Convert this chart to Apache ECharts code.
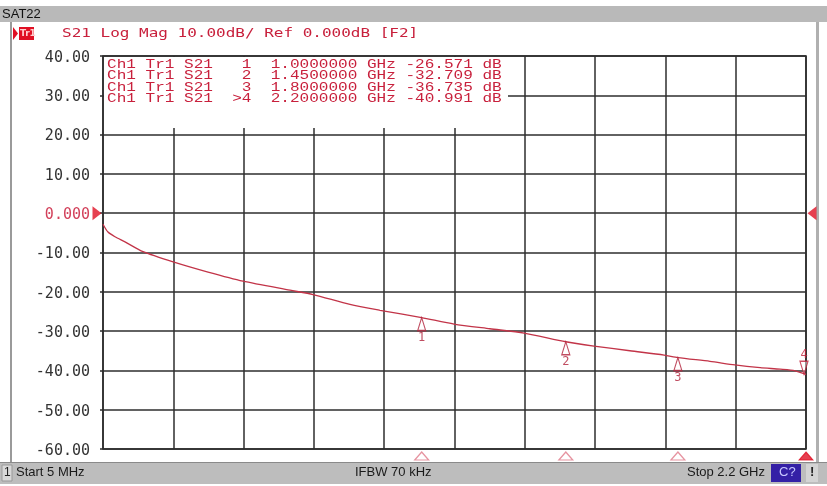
<!DOCTYPE html>
<html>
<head>
<meta charset="utf-8">
<script src="https://cdn.jsdelivr.net/npm/echarts@6/dist/echarts.min.js"></script>
<style>
  html, body { margin: 0; padding: 0; background: #ffffff; }
  #chart { width: 827px; height: 486px; }
</style>
</head>
<body>
<div id="chart"></div>
<script>
// S21 transmission sweep, 5 MHz .. 2.2 GHz
const freqGHz = [0.005, 0.0206, 0.0425, 0.0737, 0.130, 0.224, 0.333, 0.442, 0.589, 0.661,
                 0.776, 0.870, 1.000, 1.101, 1.213, 1.320, 1.450, 1.538, 1.650, 1.757,
                 1.800, 1.900, 1.978, 2.057, 2.119, 2.166, 2.200];
const s21dB   = [-2.8, -4.8, -6.0, -7.3, -9.8, -12.4, -15.0, -17.3, -19.6, -20.7,
                 -23.2, -24.7, -26.571, -28.2, -29.4, -30.5, -32.709, -33.8, -35.0, -36.1,
                 -36.735, -37.7, -38.6, -39.3, -39.7, -40.1, -40.991];

// markers
const markerIds  = ['1', '2', '3', '4'];
const markerTags = ['1', '2', '3', '>4'];
const markerGHz  = [1.0, 1.45, 1.8, 2.2];
const markerdB   = [-26.571, -32.709, -36.735, -40.991];

// y axis
const yMin = -60, yMax = 40, yStep = 10;
const yTickLabels = ['-60.00', '-50.00', '-40.00', '-30.00', '-20.00', '-10.00',
                     '0.000', '10.00', '20.00', '30.00', '40.00'];

// sweep
const startGHz = 0.005, stopGHz = 2.2;

const RED = '#c8203c';
const TRACE = '#c23448';
const GRID = '#2e2e2e';
const MONO = 'DejaVu Sans Mono';
const THIN_MONO = 'Liberation Mono';

const chart = echarts.init(document.getElementById('chart'), null, { renderer: 'canvas' });

const tableRows = markerIds.map((id, i) => {
  const tag = markerTags[i].padStart(2, ' ');
  return 'Ch1 Tr1 S21  ' + tag + '  ' + markerGHz[i].toFixed(7) + ' GHz ' +
         markerdB[i].toFixed(3) + ' dB';
});

const graphics = [
  // window frame
  { type: 'rect', shape: { x: 0, y: 6, width: 827, height: 16 }, style: { fill: '#b9b9b9' }, z: 1 },
  { type: 'text', x: 2, y: 14, style: { text: 'SAT22', font: '13px "Liberation Sans"', fill: '#111', verticalAlign: 'middle' }, z: 2 },
  { type: 'rect', shape: { x: 10, y: 22, width: 2, height: 440 }, style: { fill: '#9a9a9a' }, z: 1 },
  { type: 'rect', shape: { x: 816, y: 22, width: 3, height: 440 }, style: { fill: '#b0b0b0' }, z: 1 },
  // trace header
  { type: 'polygon', shape: { points: [[13, 27], [18, 33.5], [13, 40]] }, style: { fill: '#e01024' }, z: 2 },
  { type: 'rect', shape: { x: 19, y: 27, width: 15, height: 13 }, style: { fill: '#e01024' }, z: 2 },
  { type: 'text', x: 20, y: 29, style: { text: 'Tr1', font: 'bold 9px "DejaVu Sans"', fill: '#ffd0d0' }, z: 3 },
  { type: 'text', x: 62, y: 27, scaleX: 1.23,
    style: { text: 'S21 Log Mag 10.00dB/ Ref 0.000dB [F2]', font: '13px "' + MONO + '"', fill: RED }, z: 3 },
  // marker table
  { type: 'rect', shape: { x: 104, y: 57, width: 404, height: 71 }, style: { fill: '#ffffff' }, z: 5 },
  // status bar
  { type: 'rect', shape: { x: 0, y: 462, width: 827, height: 22 }, style: { fill: '#bdbdbd' }, z: 1 },
  { type: 'rect', shape: { x: 0, y: 462, width: 827, height: 1 }, style: { fill: '#8a8a8a' }, z: 2 },
  { type: 'rect', shape: { x: 2, y: 465, width: 10, height: 16 }, style: { fill: '#d8d8d8', stroke: '#999', lineWidth: 1 }, z: 2 },
  { type: 'text', x: 4, y: 467, style: { text: '1', font: '12px "Liberation Sans"', fill: '#222' }, z: 3 },
  { type: 'text', x: 16, y: 466, style: { text: 'Start 5 MHz', font: '13px "Liberation Sans"', fill: '#1a1a1a' }, z: 3 },
  { type: 'text', x: 355, y: 466, style: { text: 'IFBW 70 kHz', font: '13px "Liberation Sans"', fill: '#1a1a1a' }, z: 3 },
  { type: 'text', x: 765, y: 466, style: { text: 'Stop 2.2 GHz', font: '13px "Liberation Sans"', fill: '#1a1a1a', align: 'right' }, z: 3 },
  { type: 'rect', shape: { x: 771, y: 464, width: 30, height: 18 }, style: { fill: '#3420a6' }, z: 2 },
  { type: 'text', x: 779, y: 466, style: { text: 'C?', font: '13px "Liberation Sans"', fill: '#c8c8ff' }, z: 3 },
  { type: 'rect', shape: { x: 806, y: 464, width: 12, height: 18 }, style: { fill: '#d4d4d4' }, z: 2 },
  { type: 'text', x: 810, y: 466, style: { text: '!', font: 'bold 13px "Liberation Sans"', fill: '#222' }, z: 3 }
];

tableRows.forEach((row, i) => {
  graphics.push({
    type: 'text', x: 107, y: 65 + i * 11.3, scaleX: 1.337,
    style: { text: row, font: '12px "' + THIN_MONO + '"', fill: RED, verticalAlign: 'middle' },
    z: 6
  });
});

const option = {
  animation: false,
  backgroundColor: '#ffffff',
  grid: {
    left: 103, top: 56, width: 703, height: 393,
    show: true, backgroundColor: '#ffffff', borderColor: '#1e1e1e', borderWidth: 1.5
  },
  xAxis: [
    {
      type: 'value', min: startGHz, max: stopGHz,
      axisLine: { show: false }, axisTick: { show: false },
      axisLabel: { show: false }, splitLine: { show: false }
    },
    {
      // ten equal frequency divisions
      type: 'value', min: 0, max: 10, interval: 1,
      axisLine: { show: false }, axisTick: { show: false }, axisLabel: { show: false },
      splitLine: { show: true, lineStyle: { color: GRID, width: 1.5 } }
    }
  ],
  yAxis: {
    type: 'value', min: yMin, max: yMax, interval: yStep,
    axisLine: { show: false },
    axisTick: { show: true, length: 3, lineStyle: { color: GRID, width: 1.5 } },
    splitLine: { show: true, lineStyle: { color: GRID, width: 1.5 } },
    axisLabel: {
      margin: 13,
      padding: [4, 0, 0, 0],
      fontFamily: MONO, fontSize: 15, color: '#333',
      formatter: (v) => {
        const idx = Math.round((v - yMin) / yStep);
        const t = yTickLabels[idx];
        return v === 0 ? '{ref|' + t + '}' : t;
      },
      rich: { ref: { fontFamily: MONO, fontSize: 15, color: '#d2405a' } }
    }
  },
  series: [
    { type: 'line', xAxisIndex: 1, data: [], silent: true },
    {
      type: 'line', xAxisIndex: 0,
      data: freqGHz.map((f, i) => [f, s21dB[i]]),
      showSymbol: false, smooth: 0.25,
      lineStyle: { color: TRACE, width: 1.3 },
      z: 3
    },
    {
      // inactive markers on the trace
      type: 'scatter', xAxisIndex: 0,
      data: markerGHz.slice(0, 3).map((f, i) => ({ value: [f, markerdB[i]], name: markerIds[i] })),
      symbol: 'triangle', symbolSize: [8, 13], symbolOffset: [0, 6.5],
      itemStyle: { color: 'rgba(255,255,255,0.6)', borderColor: '#b0203a', borderWidth: 1.3 },
      label: {
        show: true, position: 'bottom', distance: 0,
        formatter: (p) => p.name,
        fontFamily: MONO, fontSize: 12, color: '#b0203a'
      },
      clip: false, z: 4
    },
    {
      // active marker
      type: 'scatter', xAxisIndex: 0,
      data: [{ value: [markerGHz[3], markerdB[3]], name: markerIds[3] }],
      symbol: 'triangle', symbolRotate: 180, symbolSize: [8, 13], symbolOffset: [-2, -6.5],
      itemStyle: { color: 'rgba(255,255,255,0.6)', borderColor: '#c0203a', borderWidth: 1.3 },
      label: {
        show: true, position: 'top', distance: 0,
        formatter: (p) => p.name,
        fontFamily: MONO, fontSize: 12, color: '#c0203a'
      },
      clip: false, z: 4
    },
    {
      // marker positions along the frequency axis
      type: 'scatter', xAxisIndex: 0,
      data: markerGHz.map((f, i) => ({
        value: [f, yMin],
        itemStyle: i === 3
          ? { color: '#e01024', borderColor: '#e01024', borderWidth: 1 }
          : { color: '#ffffff', borderColor: '#e07888', borderWidth: 1.2 }
      })),
      symbol: 'triangle', symbolSize: [14, 8], symbolOffset: [0, 7],
      clip: false, z: 4
    },
    {
      // reference level arrows
      type: 'scatter', xAxisIndex: 0,
      data: [
        { value: [startGHz, 0], symbolRotate: -90, symbolOffset: [-6, 0] },
        { value: [stopGHz, 0], symbolRotate: 90, symbolOffset: [6, 0] }
      ],
      symbol: 'triangle', symbolSize: [14, 9],
      itemStyle: { color: '#e01024' },
      clip: false, z: 4
    }
  ],
  graphic: graphics
};

chart.setOption(option);
</script>
</body>
</html>
